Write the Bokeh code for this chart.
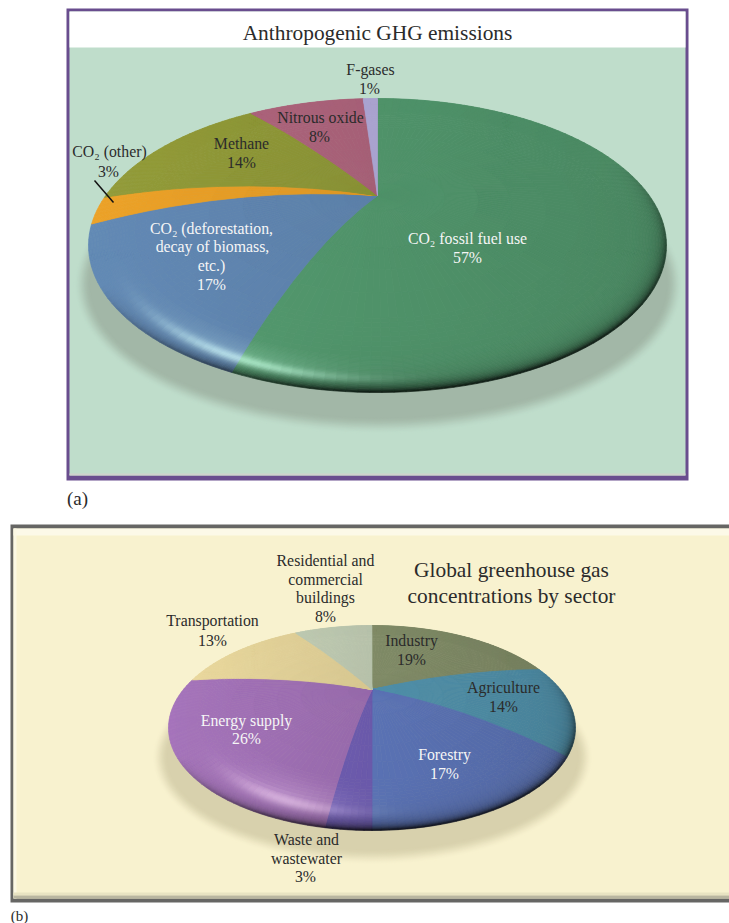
import math
import numpy as np
from bokeh.core.properties import value
from bokeh.embed import file_html
from bokeh.models import ColumnDataSource, Range1d
from bokeh.plotting import figure
from bokeh.resources import INLINE

# Shares, listed clockwise from twelve o'clock
ghg_names = ["CO2 fossil fuel use", "CO2 deforestation", "CO2 other", "Methane", "Nitrous oxide", "F-gases"]
ghg_values = [57, 17, 3, 14, 8, 1]
sector_names = ["Industry", "Agriculture", "Forestry", "Waste and wastewater", "Energy supply",
                "Transportation", "Residential and commercial buildings"]
sector_values = [19, 14, 17, 3, 26, 13, 8]

ghg_colors = ["#4f9269", "#5b7fa8", "#dc9624", "#889034", "#a55f76", "#a9a2cf"]
sector_colors = ["#7f8a66", "#4f8fa9", "#5a72b4", "#6a59aa", "#9669aa", "#d6c690", "#b6c1aa"]

SERIF = "Liberation Serif"
DARK_TEXT = "#2b2b2b"
LIGHT_TEXT = "#f6f6f6"
LABEL = 15.8

ghg_texts = [
    ("Anthropogenic GHG emissions", 377, 32, 21.4, DARK_TEXT),
    ("F-gases", 370, 69, LABEL, DARK_TEXT), ("1%", 369, 88, LABEL, DARK_TEXT),
    ("Nitrous oxide", 320, 117, LABEL, DARK_TEXT), ("8%", 319, 136, LABEL, DARK_TEXT),
    ("Methane", 241, 143, LABEL, DARK_TEXT), ("14%", 241, 162, LABEL, DARK_TEXT),
    ("CO₂ (other)", 109, 151, LABEL, DARK_TEXT), ("3%", 108, 171, LABEL, DARK_TEXT),
    ("CO₂ (deforestation,", 211, 228, LABEL, LIGHT_TEXT), ("decay of biomass,", 212, 246, LABEL, LIGHT_TEXT),
    ("etc.)", 211, 265, LABEL, LIGHT_TEXT), ("17%", 211, 284, LABEL, LIGHT_TEXT),
    ("CO₂ fossil fuel use", 467, 238, LABEL, LIGHT_TEXT), ("57%", 467, 257, LABEL, LIGHT_TEXT),
    ("(a)", 77, 498, 19, DARK_TEXT),
]
sector_texts = [
    ("Residential and", 325, 560, LABEL, DARK_TEXT), ("commercial", 325, 579, LABEL, DARK_TEXT),
    ("buildings", 325, 597, LABEL, DARK_TEXT), ("8%", 325, 616, LABEL, DARK_TEXT),
    ("Transportation", 212, 620, LABEL, DARK_TEXT), ("13%", 212, 640, LABEL, DARK_TEXT),
    ("Global greenhouse gas", 511, 569, 21.4, DARK_TEXT), ("concentrations by sector", 511, 595, 21.4, DARK_TEXT),
    ("Industry", 411, 640, LABEL, DARK_TEXT), ("19%", 411, 659, LABEL, DARK_TEXT),
    ("Agriculture", 503, 687, LABEL, DARK_TEXT), ("14%", 503, 706, LABEL, DARK_TEXT),
    ("Forestry", 444, 754, LABEL, LIGHT_TEXT), ("17%", 444, 773, LABEL, LIGHT_TEXT),
    ("Energy supply", 246, 720, LABEL, LIGHT_TEXT), ("26%", 246, 738, LABEL, LIGHT_TEXT),
    ("Waste and", 306, 839, LABEL, DARK_TEXT), ("wastewater", 306, 858, LABEL, DARK_TEXT),
    ("3%", 305, 876, LABEL, DARK_TEXT),
    ("(b)", 19, 915, 15, DARK_TEXT),
]

GHG_PIE = dict(cx=377, cy=245, a=289, b=147, apex_y=195, warp=12, bulge=36, light=0.08,
               near=5.0, far=14.0, rho0=0.09, hi_w=0.032, hi=0.85)
SECTOR_PIE = dict(cx=371.5, cy=727.5, a=203.5, b=102.5, apex_y=689, warp=14, bulge=20, light=0.10,
                  near=4.0, far=12.0, rho0=0.17, hi_w=0.055, hi=0.55)


def to_rgb(color):
    return np.array([int(color[i:i + 2], 16) for i in (1, 3, 5)], dtype=float)


def to_hex(rgb):
    r, g, b = (int(min(255, max(0, round(c)))) for c in rgb)
    return f"#{r:02x}{g:02x}{b:02x}"


def warp_angle(deg, k):
    # The tilted disc pulls slice boundaries away from their flat angle.
    return deg - k * math.sin(math.radians(deg))


def slice_point(cfg, deg, s):
    # Point at fraction s along the bowed edge running from apex to rim.
    t = math.radians(deg)
    rx = cfg["cx"] + cfg["a"] * math.sin(t)
    ry = cfg["cy"] - cfg["b"] * math.cos(t)
    ax, ay = cfg["cx"], cfg["apex_y"]
    qx = (ax + rx) / 2
    qy = (ay + ry) / 2 - cfg["bulge"] * abs(math.sin(t / 2))
    x = (1 - s) ** 2 * ax + 2 * s * (1 - s) * qx + s ** 2 * rx
    y = (1 - s) ** 2 * ay + 2 * s * (1 - s) * qy + s ** 2 * ry
    return x, y


def shade(base, x, y, cfg):
    u = (x - cfg["cx"]) / cfg["a"]
    v = (y - cfg["cy"]) / cfg["b"]
    r = math.hypot(u, v) + 1e-6
    rho = max(0.0, 1 - r)
    du, dv = u / r, v / r
    rgb = base * (1 - cfg["light"] * u)
    # lit crease inside the lower-left edge, with a faint glow above it
    facing = max(0.0, -0.5 * du + 0.85 * dv) ** 10
    crease = math.exp(-(((rho - cfg["rho0"]) / cfg["hi_w"]) ** 2))
    glow = math.exp(-(((rho - cfg["rho0"] * 1.5) / (cfg["hi_w"] * 2.2)) ** 2))
    lift = min(0.9, facing * (crease * cfg["hi"] + glow * 0.2))
    tint = np.minimum(255.0, base * 1.2 + 95.0)
    rgb = rgb + (tint - rgb) * lift
    # darkening measured in pixels from the rim, so the band is even all round
    dist = rho * math.hypot(cfg["a"] * du, cfg["b"] * dv)
    weight = min(1.0, max(0.0, 0.85 * dv + 0.4 * du + 0.15))
    dark = weight * (0.62 * math.exp(-dist / cfg["near"]) + 0.26 * math.exp(-dist / cfg["far"]))
    return to_hex(rgb * (1 - dark))


def pie_cells(values, colors, cfg):
    rows = np.concatenate([np.linspace(0, 0.7, 7), np.linspace(0.7, 0.86, 9)[1:], np.linspace(0.86, 1, 29)[1:]])
    xs, ys, fills = [], [], []
    start = 0.0
    total = sum(values)
    for val, color in zip(values, colors):
        end = start + 360.0 * val / total
        n = max(2, int(math.ceil((end - start) / 2.0)))
        angles = [warp_angle(d, cfg["warp"]) for d in np.linspace(start, end, n + 1)]
        base = to_rgb(color)
        for a0, a1 in zip(angles[:-1], angles[1:]):
            for s0, s1 in zip(rows[:-1], rows[1:]):
                corners = [slice_point(cfg, a0, s0), slice_point(cfg, a1, s0),
                           slice_point(cfg, a1, s1), slice_point(cfg, a0, s1)]
                xs.append([c[0] for c in corners])
                ys.append([c[1] for c in corners])
                mx, my = slice_point(cfg, (a0 + a1) / 2, (s0 + s1) / 2)
                fills.append(shade(base, mx, my, cfg))
        start = end
    return ColumnDataSource(dict(xs=xs, ys=ys, fill=fills))


p = figure(width=729, height=923, output_backend="svg", toolbar_location=None,
           x_range=Range1d(0, 729), y_range=Range1d(923, 0), min_border=0,
           x_axis_location=None, y_axis_location=None)
p.grid.visible = False
p.outline_line_color = None
p.background_fill_color = "#ffffff"
p.border_fill_color = "#ffffff"


def rect(x0, y0, x1, y1, color):
    p.quad(left=x0, right=x1, top=y0, bottom=y1, fill_color=color, line_color=None)


def soft_shadow(cx, cy, a, b, blur, inner, outer, steps=22):
    c0, c1 = to_rgb(outer), to_rgb(inner)
    for i in range(steps):
        f = i / (steps - 1)
        grow = blur * (1 - f)
        # smooth falloff from the panel colour into the shadow tone
        mix = f * f * (3 - 2 * f)
        p.ellipse(x=cx, y=cy, width=2 * (a + grow), height=2 * (b + grow),
                  fill_color=to_hex(c0 + (c1 - c0) * mix), line_color=None)


def draw_texts(items):
    for text, x, y, size, color in items:
        p.text(x=[x], y=[y], text=[text], text_font=value(SERIF), text_font_size=f"{size}px",
               text_color=color, text_align="center", text_baseline="middle")


# Upper panel
rect(66, 8, 688, 480, "#694d8e")
rect(69, 11, 685, 475, "#bfddcb")
rect(69, 473, 685, 475, "#cfd3cc")
rect(69, 11, 685, 47, "#ffffff")
soft_shadow(378, 284, 288, 133, 17, "#a2b7a7", "#bfddcb")
cells = pie_cells(ghg_values, ghg_colors, GHG_PIE)
p.patches("xs", "ys", source=cells, fill_color="fill", line_color="fill", line_width=0.7)
p.line(x=[94, 113], y=[180, 202], line_color="#111111", line_width=1.5)
draw_texts(ghg_texts)

# Lower panel
rect(10, 524, 729, 902, "#666664")
rect(13, 528, 729, 898, "#f8f2cf")
rect(13, 528, 729, 535, "#fcf9e8")
rect(13, 528, 16, 898, "#fbf8e4")
rect(13, 892, 729, 895, "#e8e3c2")
rect(13, 895, 729, 898, "#b9b6a0")
soft_shadow(372, 757, 205, 92, 16, "#d8d1ad", "#f8f2cf")
cells = pie_cells(sector_values, sector_colors, SECTOR_PIE)
p.patches("xs", "ys", source=cells, fill_color="fill", line_color="fill", line_width=0.7)
draw_texts(sector_texts)

open("out.html", "w").write(file_html(p, INLINE))
